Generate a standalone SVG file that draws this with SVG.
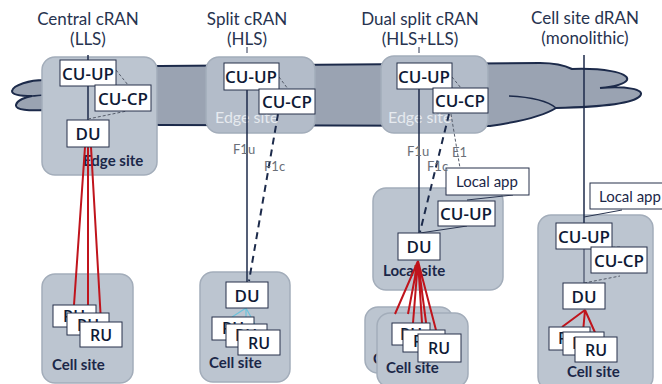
<svg xmlns="http://www.w3.org/2000/svg" width="662" height="384" viewBox="0 0 662 384">
<style>
.title{font-family:Lato,"Liberation Sans",sans-serif;font-size:17px;fill:#27334f;text-anchor:middle}
.site{fill:#bcc5d0;stroke:#a3adba;stroke-width:1.5}
.esite{fill:#b3bcc9;stroke:#a3adba;stroke-width:1.5}
.slab{font-family:Lato,"Liberation Sans",sans-serif;font-size:15px;font-weight:bold;fill:#1b2748}
.elab{font-family:Lato,"Liberation Sans",sans-serif;font-size:16px;fill:#e6eaef}
.box{fill:#ffffff;stroke:#26304a;stroke-width:1}
.btxt{font-family:"Open Sans","DejaVu Sans",sans-serif;font-size:17px;font-weight:600;fill:#0f1a36;text-anchor:middle}
.rtxt{font-family:"Open Sans","DejaVu Sans",sans-serif;font-size:16px;font-weight:600;fill:#0f1a36;text-anchor:middle}
.app{font-family:Lato,"Liberation Sans",sans-serif;font-size:15px;fill:#1b2748}
.ifl{font-family:Lato,"Liberation Sans",sans-serif;font-size:13px;fill:#6a6f78}
.ln{stroke:#1c2a4a;stroke-width:1.5;fill:none}
.thin{stroke:#2a3550;stroke-width:1;fill:none}
.dsh{stroke:#1c2a4a;stroke-width:2;stroke-dasharray:7 5;fill:none}
.tdsh{stroke:#555c6a;stroke-width:1;stroke-dasharray:3 2;fill:none}
.red{stroke:#c0141c;stroke-width:2;fill:none}
.cyan{stroke:#6cc3dc;stroke-width:1.2;fill:none}
.cloud{fill:#9aa3b2;stroke:#1c2a4a;stroke-width:2}
</style>

<g id="titles">
<text class="title" x="88" y="25">Central cRAN</text>
<text class="title" x="88" y="45">(LLS)</text>
<text class="title" x="247" y="25">Split cRAN</text>
<text class="title" x="247" y="45">(HLS)</text>
<text class="title" x="420" y="25">Dual split cRAN</text>
<text class="title" x="420" y="45">(HLS+LLS)</text>
<text class="title" x="585" y="24">Cell site dRAN</text>
<text class="title" x="585" y="44">(monolithic)</text>
</g>

<g id="cloud">
<path class="cloud" d="M44,80 C70,70 120,66 160,66 L540,63 C556,63 566,66 572,69 C600,68 630,72 627,80 C624,85 610,87 600,88 C625,86 646,89 640,96 C633,104 600,107 556,108 C545,115 525,121 490,126 L160,125 C120,124 70,118 44,110 C30,111 15,110 16,105 C17,100 26,97 32,96 C20,96 12,95 12,91 C13,85 30,80 44,80 Z"/>
<path class="ln" d="M509,96 C530,97 548,101 556,108 M32,96 C36,96 40,95 44,95"/>
</g>

<g id="sites">
<rect id="edge-central" class="site" x="42" y="57" width="115" height="118" rx="13"/>
<text class="slab" x="83" y="166">Edge site</text>
<rect id="edge-split" class="esite" x="206" y="57" width="109" height="76" rx="13"/>
<text class="elab" x="215" y="123">Edge site</text>
<rect id="edge-dual" class="esite" x="381" y="56" width="107" height="77" rx="13"/>
<text class="elab" x="388" y="123">Edge site</text>
<rect id="local-dual" class="site" x="373" y="188" width="130" height="102" rx="13"/>
<text class="slab" x="383" y="276">Local site</text>
<rect id="cell-central" class="site" x="42" y="274" width="91" height="109" rx="13"/>
<text class="slab" x="52" y="370">Cell site</text>
<rect id="cell-split" class="site" x="200" y="272" width="90" height="110" rx="13"/>
<text class="slab" x="209" y="368">Cell site</text>
<rect id="cell-dual-back" class="site" x="365" y="307" width="88" height="66" rx="13"/>
<text class="slab" x="373" y="364">Cell site</text>
<rect id="cell-dual" class="site" x="377" y="313" width="91" height="74" rx="13"/>
<text class="slab" x="386" y="373">Cell site</text>
<rect id="cell-dran" class="site" x="538" y="215" width="115" height="175" rx="13"/>
<text class="slab" x="567" y="377">Cell site</text>
</g>

<g id="connectors">
<path class="ln" d="M88,55 V60 M88,86 V120"/>
<path class="tdsh" d="M116,70 L128,85 M88,119 L127,111"/>
<path class="red" d="M85,147 L74,305 M88,147 L88,313 M91,147 L101,322"/>
<path class="thin" d="M247,47 V53"/>
<path class="ln" d="M247,90 V282"/>
<path class="dsh" d="M278,114 L249,281"/>
<path class="tdsh" d="M279,77 L288,89"/>
<path class="cyan" d="M246,308 L232,317 M246,308 L246,324 M246,308 L258,330"/>
<path class="thin" d="M419,47 V53"/>
<path class="ln" d="M419,89 V233"/>
<path class="dsh" d="M449,114 L420,232"/>
<path class="tdsh" d="M452,77 L461,88 M451,114 L460,168"/>
<path class="thin" d="M420,233 L467,226 M467,200 L513,195"/>
<path class="red" d="M418,261 L395,314 M418,261 L408,314 M418,261 L413,323 M418,261 L422,323 M418,261 L427,330 M418,261 L437,334"/>
<path class="ln" d="M584,55 V223"/>
<path class="thin" d="M584,217 L622,210 M584,249 V283"/>
<path class="tdsh" d="M597,248 L620,247 M584,283 L620,276"/>
<path class="red" d="M585,310 L562,327 M585,310 L583,332 M585,310 L597,337"/>
</g>

<g id="central-nodes">
<g id="c-cuup"><rect class="box" x="60" y="60" width="56" height="26"/><text class="btxt" x="88" y="80">CU-UP</text></g>
<g id="c-cucp"><rect class="box" x="95" y="85" width="56" height="26"/><text class="btxt" x="123" y="105">CU-CP</text></g>
<g id="c-du"><rect class="box" x="67" y="120" width="42" height="27"/><text class="btxt" x="88" y="140">DU</text></g>
<g id="c-ru1"><rect class="box" x="53" y="305" width="43" height="22"/><text class="rtxt" x="74" y="322">RU</text></g>
<g id="c-ru2"><rect class="box" x="67" y="313" width="42" height="22"/><text class="rtxt" x="88" y="331">RU</text></g>
<g id="c-ru3"><rect class="box" x="80" y="322" width="42" height="25"/><text class="rtxt" x="101" y="341">RU</text></g>
</g>

<g id="split-nodes">
<g id="s-cuup"><rect class="box" x="224" y="63" width="55" height="27"/><text class="btxt" x="251" y="83">CU-UP</text></g>
<g id="s-cucp"><rect class="box" x="259" y="89" width="56" height="25"/><text class="btxt" x="287" y="108">CU-CP</text></g>
<g id="s-du"><rect class="box" x="226" y="282" width="42" height="26"/><text class="btxt" x="247" y="302">DU</text></g>
<g id="s-ru1"><rect class="box" x="212" y="317" width="42" height="23"/><text class="rtxt" x="233" y="334">RU</text></g>
<g id="s-ru2"><rect class="box" x="226" y="324" width="41" height="23"/><text class="rtxt" x="246" y="341">RU</text></g>
<g id="s-ru3"><rect class="box" x="238" y="330" width="42" height="25"/><text class="rtxt" x="259" y="349">RU</text></g>
</g>

<g id="dual-nodes">
<g id="d-cuup"><rect class="box" x="397" y="63" width="55" height="26"/><text class="btxt" x="424" y="83">CU-UP</text></g>
<g id="d-cucp"><rect class="box" x="433" y="88" width="55" height="25"/><text class="btxt" x="460" y="107">CU-CP</text></g>
<g id="d-app"><rect class="box" x="446" y="168" width="83" height="27"/><text class="app" x="456" y="187">Local app</text></g>
<g id="d-cuup-local"><rect class="box" x="438" y="201" width="57" height="25"/><text class="btxt" x="466" y="220">CU-UP</text></g>
<g id="d-du"><rect class="box" x="398" y="233" width="42" height="27"/><text class="btxt" x="419" y="253">DU</text></g>
<g id="d-ru1"><rect class="box" x="392" y="323" width="38" height="22"/><text class="rtxt" x="411" y="340">RU</text></g>
<g id="d-ru2"><rect class="box" x="403" y="330" width="42" height="22"/><text class="rtxt" x="424" y="347">RU</text></g>
<g id="d-ru3"><rect class="box" x="418" y="334" width="43" height="28"/><text class="rtxt" x="439" y="354">RU</text></g>
</g>

<g id="dran-nodes">
<g id="r-app"><rect class="box" x="590" y="183" width="80" height="26"/><text class="app" x="599" y="202">Local app</text></g>
<g id="r-cuup"><rect class="box" x="556" y="223" width="56" height="26"/><text class="btxt" x="584" y="243">CU-UP</text></g>
<g id="r-cucp"><rect class="box" x="591" y="247" width="56" height="26"/><text class="btxt" x="619" y="267">CU-CP</text></g>
<g id="r-du"><rect class="box" x="563" y="283" width="42" height="26"/><text class="btxt" x="584" y="303">DU</text></g>
<g id="r-ru1"><rect class="box" x="549" y="327" width="41" height="23"/><text class="rtxt" x="569" y="344">RU</text></g>
<g id="r-ru2"><rect class="box" x="563" y="332" width="41" height="23"/><text class="rtxt" x="583" y="349">RU</text></g>
<g id="r-ru3"><rect class="box" x="575" y="337" width="42" height="25"/><text class="rtxt" x="596" y="356">RU</text></g>
</g>

<g id="labels">
<text class="ifl" x="233" y="154">F1u</text>
<text class="ifl" x="264" y="171">F1c</text>
<text class="ifl" x="407" y="156">F1u</text>
<text class="ifl" x="427" y="171">F1c</text>
<text class="ifl" x="452" y="157">E1</text>
</g>
</svg>
